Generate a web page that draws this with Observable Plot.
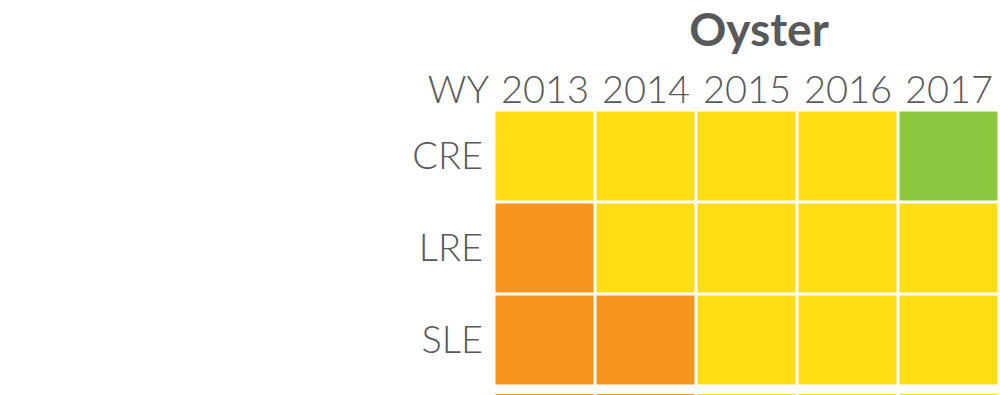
<!DOCTYPE html>
<html>
<head>
<meta charset="utf-8">
<script src="https://cdn.jsdelivr.net/npm/d3@7"></script>
<script src="https://cdn.jsdelivr.net/npm/@observablehq/plot@0.6"></script>
<style>
  html, body { margin: 0; padding: 0; background: #fff; overflow: hidden; }
  #wrap { position: relative; width: 1000px; height: 395px; }
  #title { position: absolute; left: 759px; top: 6px; transform: translateX(-50%);
           font: bold 46px Lato, "Open Sans", sans-serif; color: #58595B; line-height: 1; white-space: nowrap; }
  #chart { position: absolute; left: 0; top: 0; }
</style>
</head>
<body>
<div id="wrap">
  <div id="chart"></div>
  <div id="title">Oyster</div>
</div>
<script>
const title = "Oyster";
const corner = "WY";
const years = ["2013", "2014", "2015", "2016", "2017"];
const sites = ["CRE", "LRE", "SLE"];
const extraSite = "next";
const statusColors = { good: "#8DC63F", caution: "#FFDD15", poor: "#F7941E" };
const CRE = ["caution", "caution", "caution", "caution", "good"];
const LRE = ["poor", "caution", "caution", "caution", "caution"];
const SLE = ["poor", "poor", "caution", "caution", "caution"];
const NEXT = ["poor", "poor", "caution", "caution", "caution"];

const rows = { CRE, LRE, SLE };
const main = sites.flatMap(s => years.map((y, i) => ({ site: s, year: y, status: rows[s][i] })));
const extra = years.map((y, i) => ({ site: extraSite, year: y, status: NEXT[i] }));

const chart = Plot.plot({
  width: 1000,
  height: 395,
  marginLeft: 492.5,
  marginRight: 0,
  marginTop: 108.5,
  marginBottom: 0,
  style: { fontSize: "38px", fontWeight: 300, fontFamily: "Lato, 'Open Sans', sans-serif", color: "#58595B", background: "#fff", overflow: "hidden" },
  x: { domain: years, axis: "top", tickSize: 0, tickPadding: 6, label: null, padding: 0 },
  y: { domain: [...sites, extraSite], range: [108.5, 478.5], tickSize: 0, tickPadding: 10, label: null, padding: 0,
       tickFormat: d => sites.includes(d) ? d : "" },
  color: { domain: Object.keys(statusColors), range: Object.values(statusColors) },
  marks: [
    Plot.cell(main, { x: "year", y: "site", fill: "status", inset: 1.5 }),
    Plot.cell(extra, { x: "year", y: "site", fill: "status", inset: 1.5, insetTop: 8 }),
    Plot.text([corner], { frameAnchor: "top-left", text: d => d, textAnchor: "end", dx: -4, dy: -6, lineAnchor: "bottom", fill: "#58595B" })
  ]
});
document.getElementById("chart").appendChild(chart);
</script>
</body>
</html>
